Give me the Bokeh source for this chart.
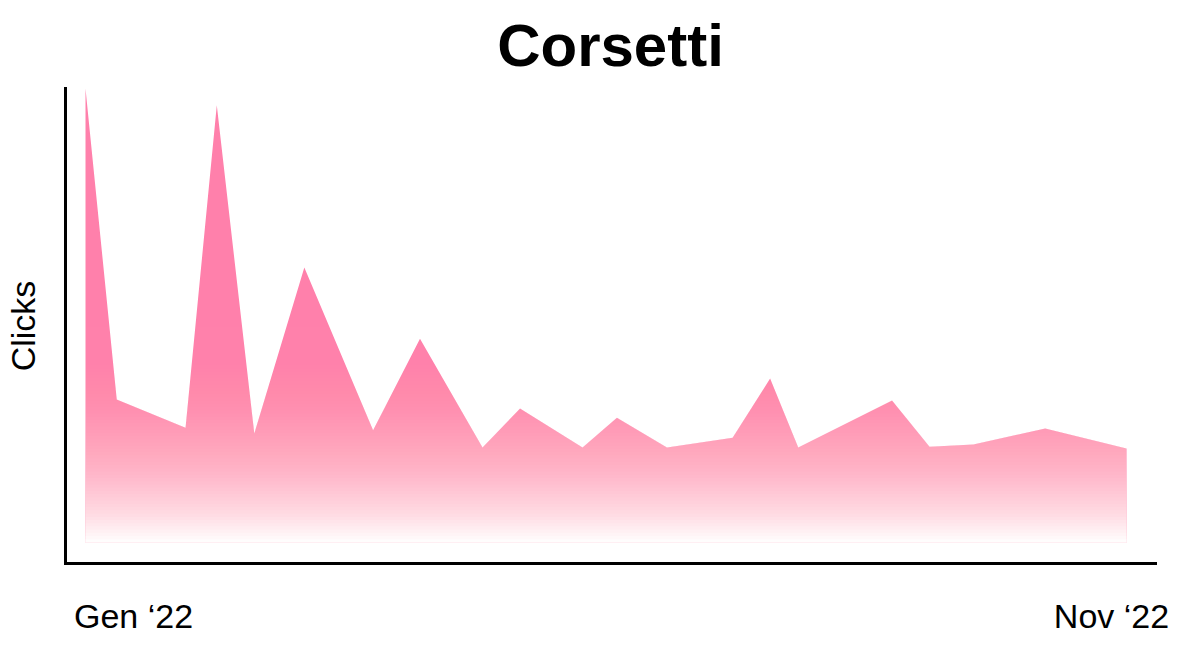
import numpy as np
import pandas as pd
from bokeh.plotting import figure
from bokeh.models import Range1d, FixedTicker
from bokeh.embed import file_html
from bokeh.resources import INLINE

# ---------------- data ----------------
title_text = "Corsetti"
y_label = "Clicks"
x_tick_labels = ["Gen ‘22", "Nov ‘22"]

dates = [
    "2022-01-01", "2022-01-11", "2022-02-02", "2022-02-12", "2022-02-24",
    "2022-03-12", "2022-04-03", "2022-04-18", "2022-05-08", "2022-05-20",
    "2022-06-09", "2022-06-20", "2022-07-06", "2022-07-27", "2022-08-08",
    "2022-08-17", "2022-09-16", "2022-09-28", "2022-10-12", "2022-11-04",
    "2022-11-30",
]
clicks = [
    100.0, 31.5, 25.3, 96.3, 24.0,
    60.6, 24.7, 44.9, 20.9, 29.5,
    20.9, 27.5, 20.9, 23.1, 36.1,
    20.9, 31.3, 21.1, 21.6, 25.1,
    20.7,
]

# ---------------- style / layout ----------------
PINK = "#ff80ab"
FONT = "Liberation Sans"
FW, FH = 1090, 475               # frame (axis box) size in px
BL, BT, BR, BB = 57, 80, 21, 85  # borders

x = pd.to_datetime(dates)
y = np.array(clicks)
vmax = y.max()
span = x[-1] - x[0]

# pixel geometry inside the frame
px_x0, px_x1 = 20, 1061          # first / last data point
px_y0 = 454                      # zero baseline (vmax at frame top)
px_label_centres = [68, 1046]    # centres of the two end labels

dppx = span / (px_x1 - px_x0)
vppx = vmax / px_y0

x_start = x[0] - dppx * px_x0
x_end = x[0] + dppx * (FW - px_x0)
y_start = -vppx * (FH - px_y0)

p = figure(
    frame_width=FW, frame_height=FH,
    x_axis_type="datetime",
    x_range=Range1d(x_start, x_end),
    y_range=Range1d(y_start, vmax),
    output_backend="svg", toolbar_location=None,
    min_border_left=BL, min_border_right=BR,
    min_border_top=BT, min_border_bottom=BB,
    title=title_text,
)
p.outline_line_color = None
p.grid.visible = False
p.background_fill_color = "white"
p.border_fill_color = "white"

p.title.text_font = FONT
p.title.text_font_size = "60px"
p.title.text_font_style = "bold"
p.title.align = "center"
p.title.text_color = "black"
p.title.standoff = 19

for ax in (p.xaxis[0], p.yaxis[0]):
    ax.axis_line_width = 3
    ax.axis_line_color = "black"
    ax.axis_line_cap = "square"
    ax.major_tick_line_color = None
    ax.minor_tick_line_color = None
    ax.major_tick_out = 0
    ax.major_tick_in = 0

# y axis: line + title only
p.yaxis.ticker = FixedTicker(ticks=[])
p.yaxis.major_label_text_font_size = "0px"
p.yaxis.major_label_standoff = 0
p.yaxis.axis_label = y_label
p.yaxis.axis_label_text_font = FONT
p.yaxis.axis_label_text_font_size = "34px"
p.yaxis.axis_label_text_font_style = "normal"
p.yaxis.axis_label_text_color = "black"
p.yaxis.axis_label_standoff = 24

# x axis: only the two end labels
tick_ts = [x[0] + dppx * (c - px_x0) for c in px_label_centres]
tick_ms = [float(t.value // 10**6) for t in tick_ts]
p.xaxis.ticker = FixedTicker(ticks=tick_ms, minor_ticks=[])
p.xaxis.major_label_overrides = {ms: lab for ms, lab in zip(tick_ms, x_tick_labels)}
p.xaxis.major_label_text_font = FONT
p.xaxis.major_label_text_font_size = "34px"
p.xaxis.major_label_text_color = "black"
p.xaxis.major_label_standoff = 33

# area with pink fill
p.varea(x=x, y1=0, y2=y, fill_color=PINK, fill_alpha=1.0)

# vertical fade to white (cumulative white overlays)
fade_top = vmax * 0.64
N = 90
levels = np.linspace(fade_top, 0, N + 1)
mids = (levels[:-1] + levels[1:]) / 2


def pink_alpha(v):
    return 1 - (1 - v / fade_top) ** 2


A_prev = 1.0
tops, alphas = [], []
for k in range(N):
    A_k = max(pink_alpha(mids[k]), 1e-4)
    a_k = 1 - A_k / A_prev
    A_prev = A_k
    tops.append(levels[k])
    alphas.append(float(np.clip(a_k, 0, 1)))

p.quad(left=[x[0]] * N, right=[x[-1]] * N, bottom=[0] * N, top=tops,
       fill_color="white", fill_alpha=alphas, line_color=None)

open("out.html", "w").write(file_html(p, INLINE))
